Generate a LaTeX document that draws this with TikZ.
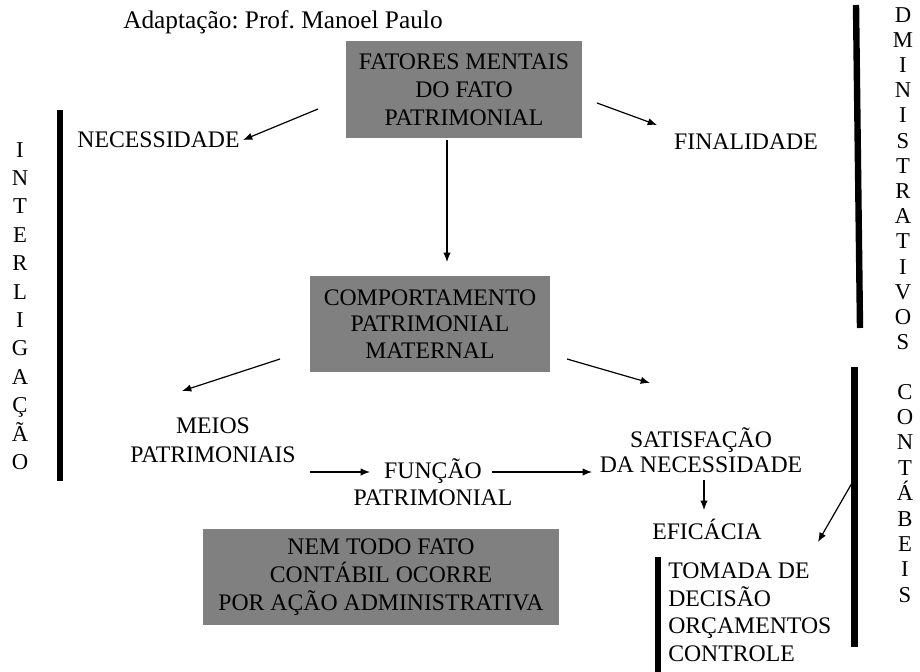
\documentclass[tikz,border=0pt]{standalone}
\usepackage{fontspec}
\setmainfont{Liberation Serif}
\usetikzlibrary{arrows.meta}
\definecolor{boxgray}{HTML}{808080}
\frenchspacing
\begin{document}
\begin{tikzpicture}[x=0.75pt,y=-0.75pt,
  txt/.style={font=\fontsize{17.8}{20}\selectfont, inner sep=0pt, align=center},
  letter/.style={font=\fontsize{17}{20}\selectfont, inner sep=0pt, anchor=base},
  graybox/.style={txt, fill=boxgray, draw=none},
  arr/.style={-{Latex[length=7pt,width=5.5pt]}, line width=0.9pt},
  bar/.style={line width=4.8pt},
]
\useasboundingbox (0,0) rectangle (920,671);

% heading
\node[txt, anchor=base west, font=\fontsize{19}{22}\selectfont] (credit) at (123,28) {Adaptação: Prof. Manoel Paulo};

% shaded boxes
\node[graybox, minimum width=177pt, minimum height=72.75pt] (mental) at (464,89.5)
  {FATORES MENTAIS\\[1pt] DO FATO\\[1pt] PATRIMONIAL};
\node[graybox, minimum width=180pt, minimum height=72pt] (comport) at (430,324)
  {COMPORTAMENTO\\ PATRIMONIAL\\ MATERNAL};
\node[graybox, minimum width=267pt, minimum height=72pt] (nemtodo) at (381,577)
  {NEM TODO FATO\\[1pt] CONTÁBIL OCORRE\\[1pt] POR AÇÃO ADMINISTRATIVA};

% plain labels
\node[txt, anchor=base] (necess) at (158.5,147) {NECESSIDADE};
\node[txt, anchor=base] (final) at (746,149) {FINALIDADE};
\node[txt] (meios) at (213,440) {MEIOS\\[2pt] PATRIMONIAIS};
\node[txt] (funcao) at (433,482) {FUNÇÃO\\[0pt] PATRIMONIAL};
\node[txt] (satisf) at (701,450) {SATISFAÇÃO\\[-1pt] DA NECESSIDADE};
\node[txt, anchor=base] (eficacia) at (707,539) {EFICÁCIA};
\node[txt, anchor=north west, align=left, font=\fontsize{17.8}{20.6}\selectfont] (tomada) at (668,563)
  {TOMADA DE\\ DECISÃO\\ ORÇAMENTOS\\ CONTROLE};

% vertical words
\foreach \l [count=\i] in {I,N,T,E,R,L,I,G,A,Ç,Ã,O}
  \node[letter] (inter\i) at (20,{157+28.4*(\i-1)}) {\l};
\foreach \l [count=\i] in {D,M,I,N,I,S,T,R,A,T,I,V,O,S}
  \node[letter] (admin\i) at (903,{22+25.2*(\i-1)}) {\l};
\foreach \l [count=\i] in {C,O,N,T,Á,B,E,I,S}
  \node[letter] (cont\i) at (905,{399+25.4*(\i-1)}) {\l};

% heavy bars
\coordinate (barLtop) at (60,110);   \coordinate (barLbot) at (60,481);
\coordinate (barRtop) at (856,5);    \coordinate (barRbot) at (860,328);
\coordinate (barCtop) at (854.5,367); \coordinate (barCbot) at (854.5,647);
\coordinate (barTtop) at (658,557);  \coordinate (barTbot) at (658,675);
\draw[bar] (barLtop) -- (barLbot);
\draw[bar] (barRtop) -- (barRbot);
\draw[bar] (barCtop) -- (barCbot);
\draw[bar] (barTtop) -- (barTbot);

% connector end points
\coordinate (m1) at (318,109);  \coordinate (n1) at (243,140);
\coordinate (m2) at (597,103);  \coordinate (f1) at (657,125);
\coordinate (m3) at (447,140);  \coordinate (c1) at (447,262);
\coordinate (c2) at (280,359);  \coordinate (p1) at (182,391);
\coordinate (c3) at (567,359);  \coordinate (s1) at (650,383);
\coordinate (p2) at (310,472);  \coordinate (fu1) at (370,472);
\coordinate (fu2) at (492,472); \coordinate (s2) at (592,472);
\coordinate (s3) at (704,480);  \coordinate (e1) at (704,510);
\coordinate (b1) at (852,483);  \coordinate (t1) at (818,542);

\draw[arr] (m1) -- (n1);
\draw[arr] (m2) -- (f1);
\draw[arr] (m3) -- (c1);
\draw[arr] (c2) -- (p1);
\draw[arr] (c3) -- (s1);
\draw[arr] (p2) -- (fu1);
\draw[arr] (fu2) -- (s2);
\draw[arr] (s3) -- (e1);
\draw[arr] (b1) -- (t1);
\end{tikzpicture}
\end{document}
